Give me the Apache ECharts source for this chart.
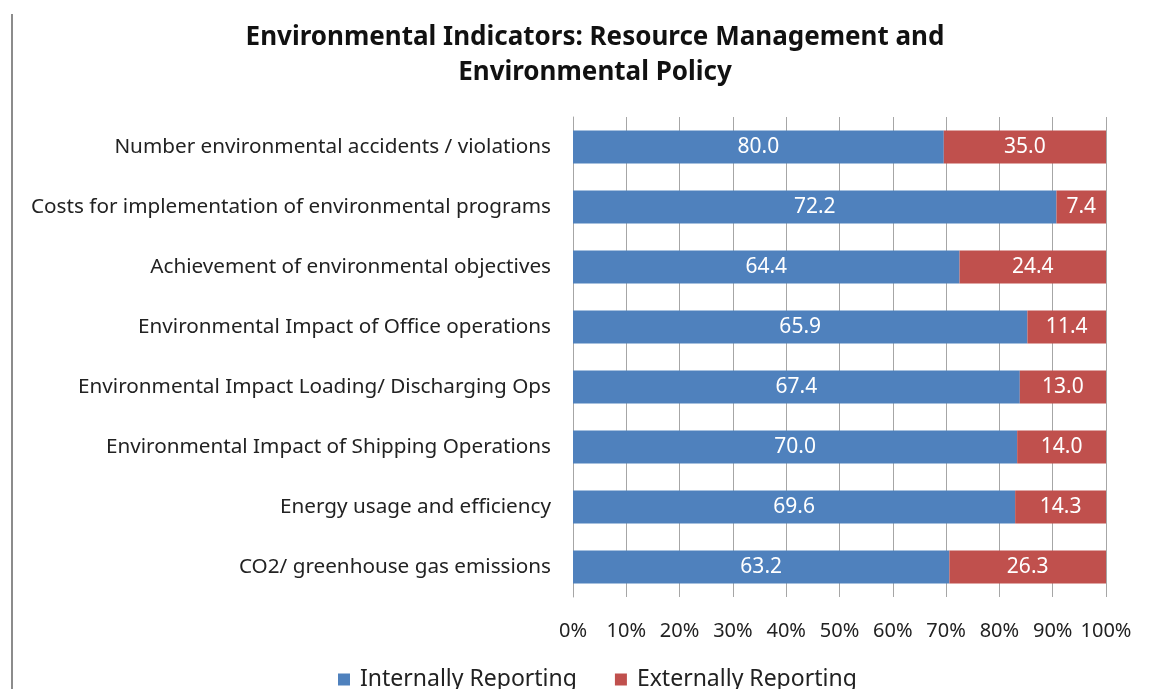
<!DOCTYPE html>
<html>
<head>
<meta charset="utf-8">
<script src="https://cdn.jsdelivr.net/npm/echarts@6/dist/echarts.min.js"></script>
<style>
  html, body { margin: 0; padding: 0; background: #fff; }
  #main { width: 1158px; height: 689px; }
</style>
</head>
<body>
<div id="main"></div>
<script>
// categories, top to bottom as in the picture
var categories = [
    'Number environmental accidents / violations',
    'Costs for implementation of environmental programs',
    'Achievement of environmental objectives',
    'Environmental Impact of Office operations',
    'Environmental Impact Loading/ Discharging Ops',
    'Environmental Impact of Shipping Operations',
    'Energy usage and efficiency',
    'CO2/ greenhouse gas emissions'
];
var internally = [80.0, 72.2, 64.4, 65.9, 67.4, 70.0, 69.6, 63.2];
var externally = [35.0, 7.4, 24.4, 11.4, 13.0, 14.0, 14.3, 26.3];
var xTicks = [0, 10, 20, 30, 40, 50, 60, 70, 80, 90, 100];

var font = 'Noto Sans';

// 100% stacked: bar length is the share, label shows the raw value
function share(a, i) {
    var tot = internally[i] + externally[i];
    return { value: a[i] / tot * 100, raw: a[i] };
}
var intData = internally.map(function (v, i) { return share(internally, i); });
var extData = externally.map(function (v, i) { return share(externally, i); });

var chart = echarts.init(document.getElementById('main'), null, {renderer: 'canvas'});

var barLabel = {
    show: true,
    position: 'inside',
    color: '#fff',
    fontFamily: font,
    fontSize: 21,
    formatter: function (p) { return p.data.raw.toFixed(1); }
};

chart.setOption({
    animation: false,
    title: {
        text: 'Environmental Indicators: Resource Management and\nEnvironmental Policy',
        left: 590,
        textAlign: 'center',
        top: 15,
        textStyle: {
            fontFamily: font,
            fontWeight: 'bold',
            fontSize: 26,
            lineHeight: 35,
            color: '#111'
        }
    },
    legend: {
        bottom: -7,
        left: 333,
        itemGap: 38,
        itemWidth: 12,
        itemHeight: 12,
        icon: 'rect',
        textStyle: { fontFamily: font, fontSize: 23, color: '#222', padding: [0, 0, 0, 5] },
        data: ['Internally Reporting', 'Externally Reporting']
    },
    grid: { left: 573, right: 52, top: 117, bottom: 92 },
    xAxis: {
        type: 'value',
        min: 0,
        max: 100,
        interval: 10,
        axisLine: { show: false },
        axisTick: { show: false },
        splitLine: { show: true, lineStyle: { color: '#a6a6a6', width: 1 } },
        axisLabel: {
            margin: 24,
            fontFamily: font,
            fontSize: 20,
            color: '#222',
            formatter: function (v) { return xTicks.indexOf(v) >= 0 ? v + '%' : ''; }
        }
    },
    yAxis: {
        type: 'category',
        inverse: true,
        data: categories,
        axisLine: { show: true, lineStyle: { color: '#a6a6a6', width: 1 } },
        axisTick: { show: false },
        axisLabel: { margin: 22, fontFamily: font, fontSize: 20.7, color: '#222' }
    },
    series: [
        {
            name: 'Internally Reporting',
            type: 'bar',
            stack: 'all',
            barCategoryGap: '45%',
            itemStyle: { color: '#4f81bd' },
            label: barLabel,
            data: intData
        },
        {
            name: 'Externally Reporting',
            type: 'bar',
            stack: 'all',
            barCategoryGap: '45%',
            itemStyle: { color: '#c0504d' },
            label: barLabel,
            data: extData
        }
    ],
    graphic: [
        {
            type: 'line',
            shape: { x1: 12, y1: 14, x2: 12, y2: 689 },
            style: { stroke: '#8c8c8c', lineWidth: 2 }
        }
    ]
});
</script>
</body>
</html>
